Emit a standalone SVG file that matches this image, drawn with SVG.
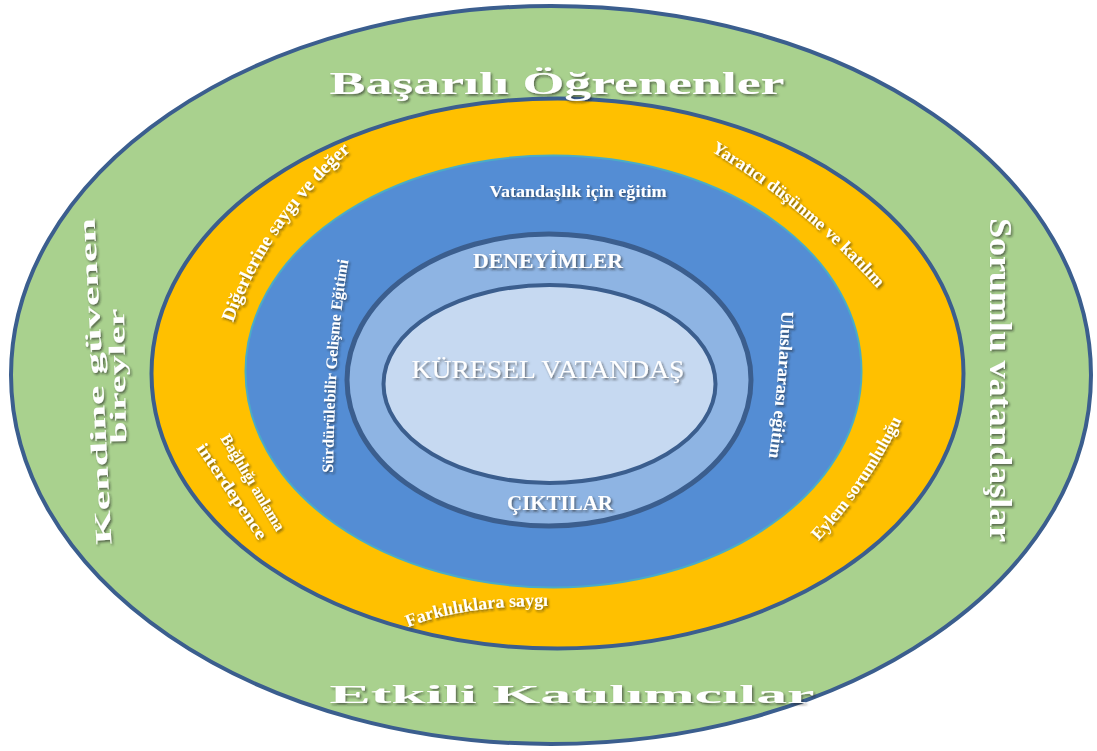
<svg xmlns="http://www.w3.org/2000/svg" width="1097" height="751" viewBox="0 0 1097 751">
  <defs>
    <style>
      .ring { stroke: #3B5E8E; }
      .t { fill: #ffffff; font-family: "Liberation Serif", "DejaVu Serif", serif; font-weight: bold; }
      .tr { fill: #ffffff; font-family: "Liberation Serif", "DejaVu Serif", serif; font-weight: normal; }
    </style>
    <filter id="shadow" x="-20%" y="-20%" width="140%" height="140%">
      <feDropShadow dx="1.5" dy="1.8" stdDeviation="1.3" flood-color="#1a1a1a" flood-opacity="0.6"/>
    </filter>
    <!-- baselines for curved labels -->
    <path id="pDiger" d="M 226,344 Q 262,222 368,136"/>
    <path id="pYarat" d="M 702,146 Q 805,205 884,296"/>
    <path id="pEylem" d="M 808,552 Q 870,490 908,406"/>
    <path id="pFark" d="M 394,634 Q 450,604 564,606"/>
    <path id="pSurd" d="M 333,486 Q 334,330 351,248"/>
    <path id="pUlus" d="M 782,298 Q 779,390 767,470"/>
  </defs>

  <rect width="1097" height="751" fill="#ffffff"/>

  <!-- concentric rings, outermost first -->
  <g id="ring-outer">
    <ellipse cx="551" cy="375" rx="540" ry="369" fill="#A9D18E" class="ring" stroke-width="4"/>
  </g>
  <g id="ring-orange">
    <ellipse cx="557.5" cy="373.5" rx="406" ry="275" fill="#FFC000" class="ring" stroke-width="4"/>
  </g>
  <g id="ring-blue">
    <ellipse cx="553.5" cy="371.5" rx="308" ry="216" fill="#548DD4" stroke="#4BACC6" stroke-width="2"/>
  </g>
  <g id="ring-mid">
    <ellipse cx="549" cy="380" rx="202" ry="146" fill="#8EB4E3" class="ring" stroke-width="5"/>
  </g>
  <g id="ring-inner">
    <ellipse cx="549.5" cy="384" rx="166" ry="99" fill="#C6D9F1" class="ring" stroke-width="4"/>
  </g>

  <!-- outer ring labels -->
  <g id="label-basarili" filter="url(#shadow)">
    <text class="t" x="557" y="94" font-size="32" text-anchor="middle" textLength="455" lengthAdjust="spacingAndGlyphs">Başarılı Öğrenenler</text>
  </g>
  <g id="label-etkili" filter="url(#shadow)">
    <text class="t" x="572" y="703" font-size="26" text-anchor="middle" textLength="485" lengthAdjust="spacingAndGlyphs">Etkili Katılımcılar</text>
  </g>
  <g id="label-sorumlu" filter="url(#shadow)">
    <text class="t" transform="translate(990,380) rotate(90)" font-size="32" text-anchor="middle" textLength="324" lengthAdjust="spacingAndGlyphs">Sorumlu vatandaşlar</text>
  </g>
  <g id="label-kendine" filter="url(#shadow)">
    <text class="t" transform="translate(103,381) rotate(-93)" font-size="23" text-anchor="middle" textLength="327" lengthAdjust="spacingAndGlyphs">Kendine güvenen</text>
    <text class="t" transform="translate(125,376) rotate(-91)" font-size="23" text-anchor="middle" textLength="135" lengthAdjust="spacingAndGlyphs">bireyler</text>
  </g>

  <!-- orange ring labels -->
  <g id="label-diger" filter="url(#shadow)">
    <text class="t" font-size="19"><textPath href="#pDiger" startOffset="50%" text-anchor="middle">Diğerlerine saygı ve değer</textPath></text>
  </g>
  <g id="label-yaratici" filter="url(#shadow)">
    <text class="t" font-size="18"><textPath href="#pYarat" startOffset="50%" text-anchor="middle">Yaratıcı düşünme ve katılım</textPath></text>
  </g>
  <g id="label-eylem" filter="url(#shadow)">
    <text class="t" font-size="17.5"><textPath href="#pEylem" startOffset="50%" text-anchor="middle">Eylem sorumluluğu</textPath></text>
  </g>
  <g id="label-farklilik" filter="url(#shadow)">
    <text class="t" font-size="18"><textPath href="#pFark" startOffset="50%" text-anchor="middle">Farklılıklara saygı</textPath></text>
  </g>
  <g id="label-baglilik" filter="url(#shadow)">
    <text class="t" transform="translate(220,438) rotate(59)" font-size="16" textLength="110" lengthAdjust="spacingAndGlyphs">Bağlılığı anlama</text>
    <text class="t" transform="translate(196,448) rotate(56)" font-size="17" textLength="112" lengthAdjust="spacingAndGlyphs">interdepence</text>
  </g>

  <!-- blue ring labels -->
  <g id="label-vatandaslik" filter="url(#shadow)">
    <text class="t" x="578" y="197" font-size="16" text-anchor="middle" textLength="177" lengthAdjust="spacingAndGlyphs">Vatandaşlık için eğitim</text>
  </g>
  <g id="label-surdurulebilir" filter="url(#shadow)">
    <text class="t" font-size="16"><textPath href="#pSurd" startOffset="50%" text-anchor="middle">Sürdürülebilir Gelişme Eğitimi</textPath></text>
  </g>
  <g id="label-uluslararasi" filter="url(#shadow)">
    <text class="t" font-size="18"><textPath href="#pUlus" startOffset="50%" text-anchor="middle">Uluslararası eğitim</textPath></text>
  </g>

  <!-- middle ring labels -->
  <g id="label-deneyimler" filter="url(#shadow)">
    <text class="t" x="548" y="268" font-size="21" text-anchor="middle" textLength="150" lengthAdjust="spacingAndGlyphs">DENEYİMLER</text>
  </g>
  <g id="label-ciktilar" filter="url(#shadow)">
    <text class="t" x="560" y="510" font-size="21" text-anchor="middle" textLength="106" lengthAdjust="spacingAndGlyphs">ÇIKTILAR</text>
  </g>

  <!-- centre -->
  <g id="label-kuresel" filter="url(#shadow)">
    <text class="tr" x="548" y="378" font-size="25" text-anchor="middle" textLength="273" lengthAdjust="spacingAndGlyphs">KÜRESEL VATANDAŞ</text>
  </g>
</svg>
